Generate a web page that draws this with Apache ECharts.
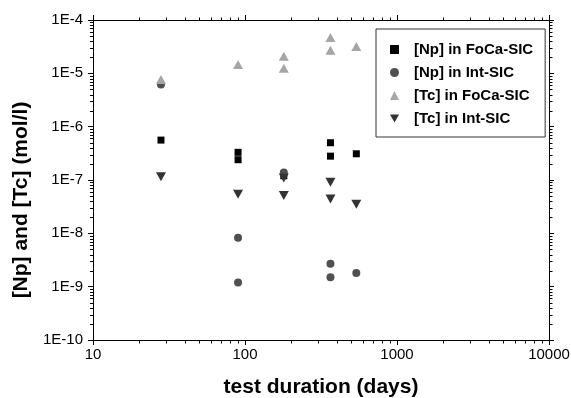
<!DOCTYPE html>
<html>
<head>
<meta charset="utf-8">
<script src="https://cdn.jsdelivr.net/npm/echarts@6/dist/echarts.min.js"></script>
<style>
html,body{margin:0;padding:0;background:#fff;}
#chart{width:571px;height:398px;}
</style>
</head>
<body>
<div id="chart"></div>
<script>
// Data (days, mol/l)
const seriesNames = ['[Np] in FoCa-SIC', '[Np] in Int-SIC', '[Tc] in FoCa-SIC', '[Tc] in Int-SIC'];
const npFoCa = [[28, 5.6e-7], [90, 3.3e-7], [90, 2.4e-7], [180, 1.2e-7], [365, 5.0e-7], [365, 2.8e-7], [540, 3.1e-7]];
const npInt = [[28, 6.2e-6], [90, 8.3e-9], [90, 1.2e-9], [180, 1.38e-7], [365, 2.7e-9], [365, 1.5e-9], [540, 1.8e-9]];
const tcFoCa = [[28, 7.7e-6], [90, 1.47e-5], [180, 2.09e-5], [180, 1.24e-5], [365, 4.7e-5], [365, 2.7e-5], [540, 3.2e-5]];
const tcInt = [[28, 1.15e-7], [90, 5.4e-8], [180, 1.09e-7], [180, 5.1e-8], [365, 9.1e-8], [365, 4.4e-8], [540, 3.5e-8]];
const xTickLabels = ['10', '100', '1000', '10000'];
const yTickExponents = [-10, -9, -8, -7, -6, -5, -4];

const X_MIN = 10, X_MAX = 10000, Y_MIN = 1e-10, Y_MAX = 1e-4;

// minor tick values (2..9 times each decade)
function minorValues(loExp, hiExp) {
  const out = [];
  for (let e = loExp; e < hiExp; e++) {
    for (let k = 2; k <= 9; k++) out.push(Number((k * Math.pow(10, e)).toPrecision(3)));
  }
  return out;
}
const xMinor = minorValues(1, 4);
const yMinor = minorValues(-10, -4);

const FONT = '"Liberation Sans", Arial, sans-serif';
const black = '#000';
const MINOR_LEN = 3;

function majorX(pos, showLabel) {
  return {
    type: 'log', logBase: 10, min: X_MIN, max: X_MAX, interval: 1, position: pos, gridIndex: 0,
    axisLine: { show: true, onZero: false, lineStyle: { color: black, width: 1 } },
    axisTick: { show: true, inside: false, length: 5, lineStyle: { color: black } },
    axisLabel: {
      show: showLabel, margin: 7, color: black, fontFamily: FONT, fontSize: 15,
      formatter: function (v) { const i = Math.round(Math.log10(v)) - 1; return xTickLabels[i] || ''; }
    },
    splitLine: { show: false }, minorTick: { show: false }
  };
}
function majorY(pos, showLabel) {
  return {
    type: 'log', logBase: 10, min: Y_MIN, max: Y_MAX, interval: 1, position: pos, gridIndex: 0,
    axisLine: { show: true, onZero: false, lineStyle: { color: black, width: 1 } },
    axisTick: { show: true, inside: false, length: 5, lineStyle: { color: black } },
    axisLabel: {
      show: showLabel, margin: 10, color: black, fontFamily: FONT, fontSize: 15,
      formatter: function (v) { const e = Math.round(Math.log10(v)); return yTickExponents.indexOf(e) >= 0 ? '1E' + e : ''; }
    },
    splitLine: { show: false }, minorTick: { show: false }
  };
}

const xMain = majorX('bottom', true);
xMain.name = 'test duration (days)';
xMain.nameLocation = 'middle';
xMain.nameGap = 37;
xMain.nameTextStyle = { color: black, fontFamily: FONT, fontSize: 21, fontWeight: 'bold' };

const yMain = majorY('left', true);
yMain.name = '[Np] and [Tc] (mol/l)';
yMain.nameLocation = 'middle';
yMain.nameGap = 60;
yMain.nameRotate = 90;
yMain.nameTextStyle = { color: black, fontFamily: FONT, fontSize: 21, fontWeight: 'bold', padding: [0, 40, 0, 0] };

const downTri = 'path://M0,0 L10,0 L5,9 Z';

function tickLine(x1, y1, x2, y2) {
  return { type: 'line', shape: { x1: x1, y1: y1, x2: x2, y2: y2 }, style: { stroke: black, lineWidth: 1 } };
}
// minor ticks on bottom & top axes, placed through the x axis scale
function renderXMinor(params, api) {
  const pb = api.coord([api.value(0), Y_MIN]);
  const pt = api.coord([api.value(0), Y_MAX]);
  const x = Math.round(pb[0]) + 0.5;
  const yb = Math.round(pb[1]);
  const yt = Math.round(pt[1]);
  return { type: 'group', children: [tickLine(x, yb, x, yb + MINOR_LEN + 0.5), tickLine(x, yt + 1, x, yt - MINOR_LEN + 0.5)] };
}
// minor ticks on left & right axes, placed through the y axis scale
function renderYMinor(params, api) {
  const pl = api.coord([X_MIN, api.value(0)]);
  const pr = api.coord([X_MAX, api.value(0)]);
  const y = Math.round(pl[1]) + 0.5;
  const xl = Math.round(pl[0]);
  const xr = Math.round(pr[0]);
  return { type: 'group', children: [tickLine(xl + 0.5, y, xl - MINOR_LEN, y), tickLine(xr, y, xr + MINOR_LEN + 0.5, y)] };
}

const chart = echarts.init(document.getElementById('chart'), null, { renderer: 'canvas' });
chart.setOption({
  backgroundColor: '#fff',
  animation: false,
  grid: { left: 93, right: 22, top: 20, bottom: 58, containLabel: false, outerBoundsMode: 'none' },
  xAxis: [xMain, majorX('top', false)],
  yAxis: [yMain, majorY('right', false)],
  legend: {
    orient: 'vertical', left: 376, top: 29,
    padding: [13, 12, 11, 14], itemGap: 8, itemWidth: 9, itemHeight: 9,
    borderColor: '#333', borderWidth: 1, backgroundColor: '#fff',
    textStyle: { color: black, fontFamily: FONT, fontSize: 15, fontWeight: 'bold', lineHeight: 15, padding: [0, 0, 0, 10] },
    data: seriesNames
  },
  series: [
    { name: seriesNames[0], type: 'scatter', xAxisIndex: 0, yAxisIndex: 0, symbol: 'rect', symbolSize: 7, itemStyle: { color: '#000000', opacity: 1 }, data: npFoCa },
    { name: seriesNames[1], type: 'scatter', xAxisIndex: 0, yAxisIndex: 0, symbol: 'circle', symbolSize: 8, itemStyle: { color: '#505050', opacity: 1 }, data: npInt },
    { name: seriesNames[2], type: 'scatter', xAxisIndex: 0, yAxisIndex: 0, symbol: 'triangle', symbolSize: [10, 9], itemStyle: { color: '#a6a6a6', opacity: 1 }, data: tcFoCa },
    { name: seriesNames[3], type: 'scatter', xAxisIndex: 0, yAxisIndex: 0, symbol: downTri, symbolSize: [10, 9], itemStyle: { color: '#333333', opacity: 1 }, data: tcInt },
    { name: 'xMinorTicks', type: 'custom', xAxisIndex: 0, yAxisIndex: 0, silent: true, clip: false, z: 5,
      encode: { x: 0 }, renderItem: renderXMinor, data: xMinor.map(function (v) { return [v]; }) },
    { name: 'yMinorTicks', type: 'custom', xAxisIndex: 0, yAxisIndex: 0, silent: true, clip: false, z: 5,
      encode: { y: 0 }, renderItem: renderYMinor, data: yMinor.map(function (v) { return [v]; }) }
  ]
});
</script>
</body>
</html>
